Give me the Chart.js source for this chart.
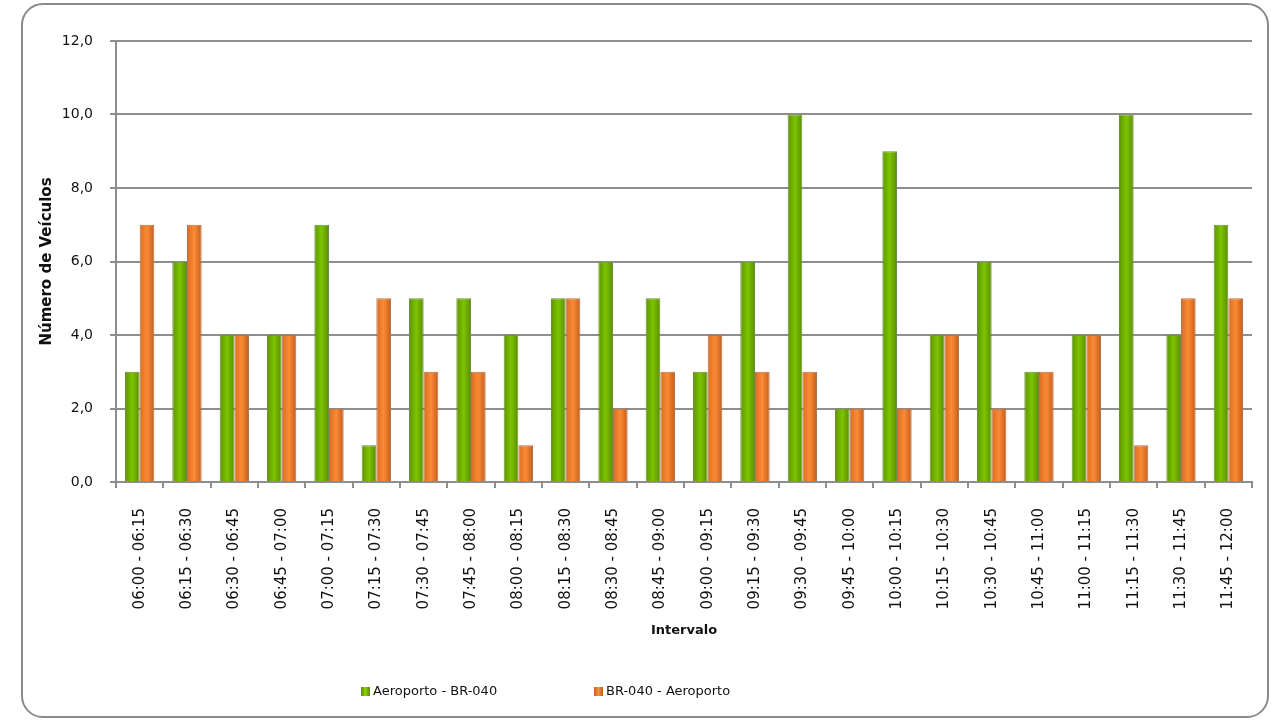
<!DOCTYPE html>
<html>
<head>
<meta charset="utf-8">
<script src="https://cdn.jsdelivr.net/npm/chart.js@4/dist/chart.umd.min.js"></script>
<style>
  body { margin: 0; background: #fff; font-family: 'DejaVu Sans', sans-serif; }
  #wrap { position: relative; width: 1271px; height: 721px; overflow: hidden; }
  #frame { position: absolute; left: 21px; top: 3px; width: 1244px; height: 711px;
           border: 2px solid #8a8a8a; border-radius: 22px; pointer-events: none; }
  canvas { position: absolute; left: 0; top: 0; }
  .leg { position: absolute; top: 683px; font-size: 13px; color: #111; white-space: nowrap; }
  .leg i { display: inline-block; width: 9px; height: 9px; margin-right: 3px; vertical-align: -1px; }
</style>
</head>
<body>
<div id="wrap">
  <canvas id="chart" width="1271" height="721"></canvas>
  <div id="frame"></div>
  <div class="leg" style="left:361px"><i style="background:linear-gradient(90deg,#5c8f00,#8ed100,#5a8a00)"></i>Aeroporto - BR-040</div>
  <div class="leg" style="left:594px"><i style="background:linear-gradient(90deg,#c8601a,#fb9040,#c25a18)"></i>BR-040 - Aeroporto</div>
</div>
<script>
// Intervalos de 15 minutos
const intervals = [
  '06:00 - 06:15', '06:15 - 06:30', '06:30 - 06:45', '06:45 - 07:00',
  '07:00 - 07:15', '07:15 - 07:30', '07:30 - 07:45', '07:45 - 08:00',
  '08:00 - 08:15', '08:15 - 08:30', '08:30 - 08:45', '08:45 - 09:00',
  '09:00 - 09:15', '09:15 - 09:30', '09:30 - 09:45', '09:45 - 10:00',
  '10:00 - 10:15', '10:15 - 10:30', '10:30 - 10:45', '10:45 - 11:00',
  '11:00 - 11:15', '11:15 - 11:30', '11:30 - 11:45', '11:45 - 12:00'
];
const aeroportoBR040 = [3, 6, 4, 4, 7, 1, 5, 5, 4, 5, 6, 5, 3, 6, 10, 2, 9, 4, 6, 3, 4, 10, 4, 7];
const br040Aeroporto = [7, 7, 4, 4, 2, 5, 3, 3, 1, 5, 2, 3, 4, 3, 3, 2, 2, 4, 2, 3, 4, 1, 5, 5];
const yTicks = [0, 2, 4, 6, 8, 10, 12];

const CAT_PCT = 0.62;
const GRID = '#8e8e8e';

// horizontal gradient per bar, built from the x scale position
function barFill(side, stops) {
  return (ctx) => {
    const chart = ctx.chart;
    const xs = chart.scales && chart.scales.x;
    if (!xs || ctx.type !== 'data') return stops[1];
    const bw = xs.width / intervals.length * CAT_PCT / 2;
    const c = xs.getPixelForValue(ctx.dataIndex);
    if (!Number.isFinite(bw) || !Number.isFinite(c) || bw <= 0) return stops[1];
    const x0 = side < 0 ? c - bw : c;
    const g = chart.ctx.createLinearGradient(x0, 0, x0 + bw, 0);
    g.addColorStop(0, stops[0]);
    g.addColorStop(0.5, stops[1]);
    g.addColorStop(1, stops[2]);
    return g;
  };
}

new Chart(document.getElementById('chart'), {
  type: 'bar',
  data: {
    labels: intervals,
    datasets: [
      {
        label: 'Aeroporto - BR-040',
        data: aeroportoBR040,
        backgroundColor: barFill(-1, ['#5e9400', '#7dc400', '#5a8c00']),
        borderColor: '#6f8f3a',
        borderWidth: 1,
        categoryPercentage: CAT_PCT,
        barPercentage: 1.0
      },
      {
        label: 'BR-040 - Aeroporto',
        data: br040Aeroporto,
        backgroundColor: barFill(1, ['#dc6c22', '#fa8b35', '#c45c1a']),
        borderColor: '#b07550',
        borderWidth: 1,
        categoryPercentage: CAT_PCT,
        barPercentage: 1.0
      }
    ]
  },
  options: {
    responsive: false,
    animation: false,
    layout: { padding: { left: 35, right: 19, top: 41, bottom: 80 } },
    plugins: { legend: { display: false }, tooltip: { enabled: false } },
    scales: {
      x: {
        grid: { offset: true, drawOnChartArea: false, drawTicks: true, tickLength: 6, color: GRID, lineWidth: 2 },
        border: { color: GRID, width: 2 },
        ticks: {
          autoSkip: false, minRotation: 90, maxRotation: 90, padding: 20,
          color: '#111', font: { family: 'DejaVu Sans', size: 15 }
        },
        title: {
          display: true, text: 'Intervalo', color: '#111',
          font: { family: 'DejaVu Sans', size: 13, weight: 'bold' },
          padding: { top: 6, bottom: 3 }
        },
        afterFit: (s) => { s.height = 159; }
      },
      y: {
        min: 0, max: 12,
        afterBuildTicks: (s) => { s.ticks = yTicks.map(v => ({ value: v })); },
        grid: { color: GRID, lineWidth: 2, tickLength: 6 },
        border: { color: GRID, width: 2 },
        ticks: {
          padding: 17, color: '#111', font: { family: 'DejaVu Sans', size: 14 },
          callback: (v) => v.toFixed(1).replace('.', ',')
        },
        title: {
          display: true, text: 'Número de Veículos', color: '#111',
          font: { family: 'DejaVu Sans', size: 15, weight: 'bold' },
          padding: { top: 3, bottom: 4 }
        },
        afterFit: (s) => { s.width = 81; }
      }
    }
  }
});
</script>
</body>
</html>
